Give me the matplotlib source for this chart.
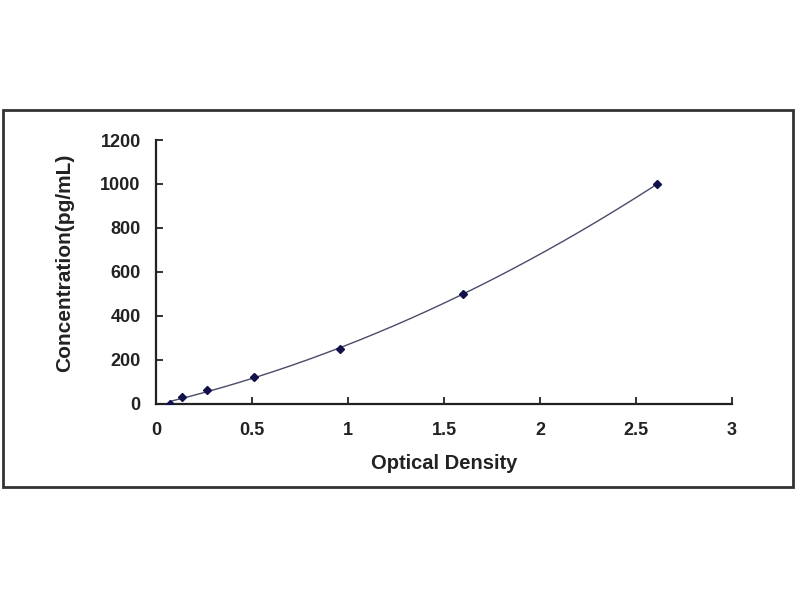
import numpy as np
import matplotlib
matplotlib.use("Agg")
import matplotlib.pyplot as plt
from matplotlib.patches import Rectangle

# Data
od = [0.072, 0.137, 0.268, 0.513, 0.958, 1.60, 2.61]
conc = [0.0, 31.2, 62.5, 125.0, 250.0, 500.0, 1000.0]
x_ticks = [0, 0.5, 1, 1.5, 2, 2.5, 3]
x_tick_labels = ["0", "0.5", "1", "1.5", "2", "2.5", "3"]
y_ticks = [0, 200, 400, 600, 800, 1000, 1200]
y_tick_labels = ["0", "200", "400", "600", "800", "1000", "1200"]

plt.rcParams['font.family'] = ['Liberation Sans', 'DejaVu Sans']

fig = plt.figure(figsize=(8, 6), dpi=100)
fig.patch.set_facecolor('white')

# outer frame
frame = Rectangle((3 / 800, 1 - 487 / 600), 790 / 800, 377 / 600,
                  transform=fig.transFigure, fill=False,
                  edgecolor='#333333', linewidth=2.0)
fig.patches.append(frame)

ax = fig.add_axes([156 / 800, 1 - 404 / 600, 576 / 800, 264 / 600])
ax.set_xlim(0, 3)
ax.set_ylim(0, 1200)

# smooth fitted curve (polynomial trendline of the data)
coef = np.polyfit(od, conc, 2)
xs = np.linspace(min(od), max(od), 200)
ax.plot(xs, np.polyval(coef, xs), color='#4a4a6a', linewidth=1.0, zorder=2)
ax.plot(od, conc, linestyle='none', marker='D', markersize=4.5,
        color='#10104a', zorder=3)

for side in ['top', 'right']:
    ax.spines[side].set_visible(False)
for side in ['left', 'bottom']:
    ax.spines[side].set_linewidth(1.6)
    ax.spines[side].set_color('#222222')

ax.set_xticks(x_ticks)
ax.set_xticklabels(x_tick_labels)
ax.set_yticks(y_ticks)
ax.set_yticklabels(y_tick_labels)
ax.tick_params(direction='in', length=5, width=1.3, color='#222222',
               labelsize=13)
ax.tick_params(axis='x', pad=13)
ax.tick_params(axis='y', pad=11)
for lab in ax.get_xticklabels() + ax.get_yticklabels():
    lab.set_fontweight('bold')
    lab.set_color('#222222')

ax.set_xlabel('Optical Density', fontsize=14.5, fontweight='bold',
              color='#222222')
ax.xaxis.set_label_coords(0.5, -0.188)
ax.set_ylabel('Concentration(pg/mL)', fontsize=15, fontweight='bold',
              color='#222222')
ax.yaxis.set_label_coords(-0.142, 0.535)

fig.savefig('out.png', dpi=100, facecolor='white')
